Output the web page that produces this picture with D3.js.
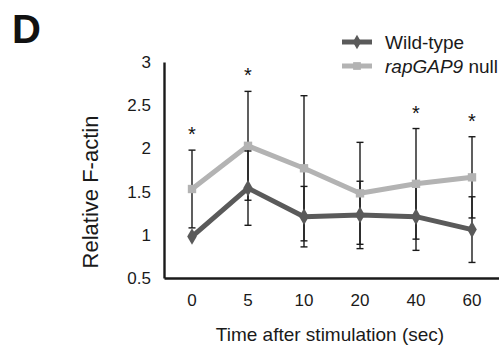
<!DOCTYPE html>
<html>
<head>
<meta charset="utf-8">
<script src="https://cdn.jsdelivr.net/npm/d3@7"></script>
<style>
  body { margin: 0; background: #fff; }
  svg { display: block; font-family: "Liberation Sans", Arial, sans-serif; }
</style>
</head>
<body>
<div id="chart"></div>
<script>
// data
const times = ['0', '5', '10', '20', '40', '60'];
const yTicks = [0.5, 1, 1.5, 2, 2.5, 3];
const wildType = [0.98, 1.54, 1.21, 1.23, 1.21, 1.06];
const wildTypeErr = [0, 0.43, 0.35, 0.39, 0.39, 0.38];
const nullMean = [1.53, 2.03, 1.77, 1.48, 1.59, 1.665];
const nullErr = [0.45, 0.63, 0.84, 0.59, 0.64, 0.47];
const significant = ['0', '5', '40', '60'];

const width = 499, height = 351;
const svg = d3.select('#chart').append('svg').attr('width', width).attr('height', height);

const x = d3.scaleBand().domain(times).range([164, 500]);
const y = d3.scaleLinear().domain([0.5, 3]).range([278, 62]);
const cx = d => x(d) + x.bandwidth() / 2;

// panel letter
svg.append('text').attr('x', 12).attr('y', 43)
  .style('font-size', '40px').style('font-weight', 'bold').attr('fill', '#111').text('D');

// axes
const yAxis = svg.append('g').attr('transform', 'translate(164,0)')
  .call(d3.axisLeft(y).tickValues(yTicks).tickSize(0).tickSizeOuter(0).tickPadding(13)
    .tickFormat(d3.format('')));
yAxis.selectAll('text').style('font-size', '17px').attr('fill', '#1a1a1a');
yAxis.select('.domain').attr('stroke', '#1a1a1a').attr('stroke-width', 2.4);

const xAxis = svg.append('g').attr('transform', 'translate(0,278)')
  .call(d3.axisBottom(x).tickSize(0).tickSizeOuter(0).tickPadding(16));
xAxis.selectAll('text').style('font-size', '17px').attr('fill', '#1a1a1a');
xAxis.select('.domain').attr('stroke', '#1a1a1a').attr('stroke-width', 2.4);

// axis titles
svg.append('text').attr('transform', 'translate(98,192) rotate(-90)')
  .attr('text-anchor', 'middle').style('font-size', '22px').attr('fill', '#1a1a1a')
  .text('Relative F-actin');
svg.append('text').attr('x', 330).attr('y', 341)
  .attr('text-anchor', 'middle').style('font-size', '19px').attr('fill', '#1a1a1a')
  .text('Time after stimulation (sec)');

const series = [
  { name: 'Wild-type', values: wildType, err: wildTypeErr, color: '#5a5a5a', shape: d3.symbolDiamond },
  { name: 'rapGAP9 null', values: nullMean, err: nullErr, color: '#b3b3b3', shape: d3.symbolSquare }
];

const line = d3.line().x((d, i) => cx(times[i])).y(d => y(d));

// lines
series.forEach(s => {
  svg.append('path').datum(s.values).attr('d', line)
    .attr('fill', 'none').attr('stroke', s.color).attr('stroke-width', 5)
    .attr('stroke-linejoin', 'round');
});

// error bars
series.forEach(s => {
  const g = svg.append('g').attr('stroke', '#1a1a1a').attr('stroke-width', 1.4);
  s.values.forEach((v, i) => {
    const e = s.err[i];
    if (!e) return;
    const px = cx(times[i]);
    g.append('line').attr('x1', px).attr('x2', px).attr('y1', y(v - e)).attr('y2', y(v + e));
    [v - e, v + e].forEach(t => {
      g.append('line').attr('x1', px - 3.5).attr('x2', px + 3.5).attr('y1', y(t)).attr('y2', y(t));
    });
  });
});

// markers
series.forEach(s => {
  svg.append('g').selectAll('path').data(s.values).join('path')
    .attr('transform', (d, i) => `translate(${cx(times[i])},${y(d)})`)
    .attr('d', d3.symbol().type(s.shape).size(s.shape === d3.symbolSquare ? 70 : 80))
    .attr('fill', s.color);
});

// significance stars above null upper bars
svg.append('g').selectAll('text').data(significant).join('text')
  .attr('x', d => cx(d))
  .attr('y', d => { const i = times.indexOf(d); return y(nullMean[i] + nullErr[i]) - 9; })
  .attr('text-anchor', 'middle').style('font-size', '20px').attr('fill', '#111')
  .text('*');

// legend
const legend = svg.append('g');
series.forEach((s, i) => {
  const ly = 42 + i * 24;
  legend.append('line').attr('x1', 342).attr('x2', 372).attr('y1', ly).attr('y2', ly)
    .attr('stroke', s.color).attr('stroke-width', 5);
  legend.append('path').attr('transform', `translate(357,${ly})`)
    .attr('d', d3.symbol().type(s.shape).size(60)).attr('fill', s.color);
  const t = legend.append('text').attr('x', 385).attr('y', ly + 6.5)
    .style('font-size', '19px').attr('fill', '#1a1a1a');
  if (i === 1) {
    t.append('tspan').style('font-style', 'italic').text('rapGAP9');
    t.append('tspan').text(' null');
  } else {
    t.text(s.name);
  }
});
</script>
</body>
</html>
